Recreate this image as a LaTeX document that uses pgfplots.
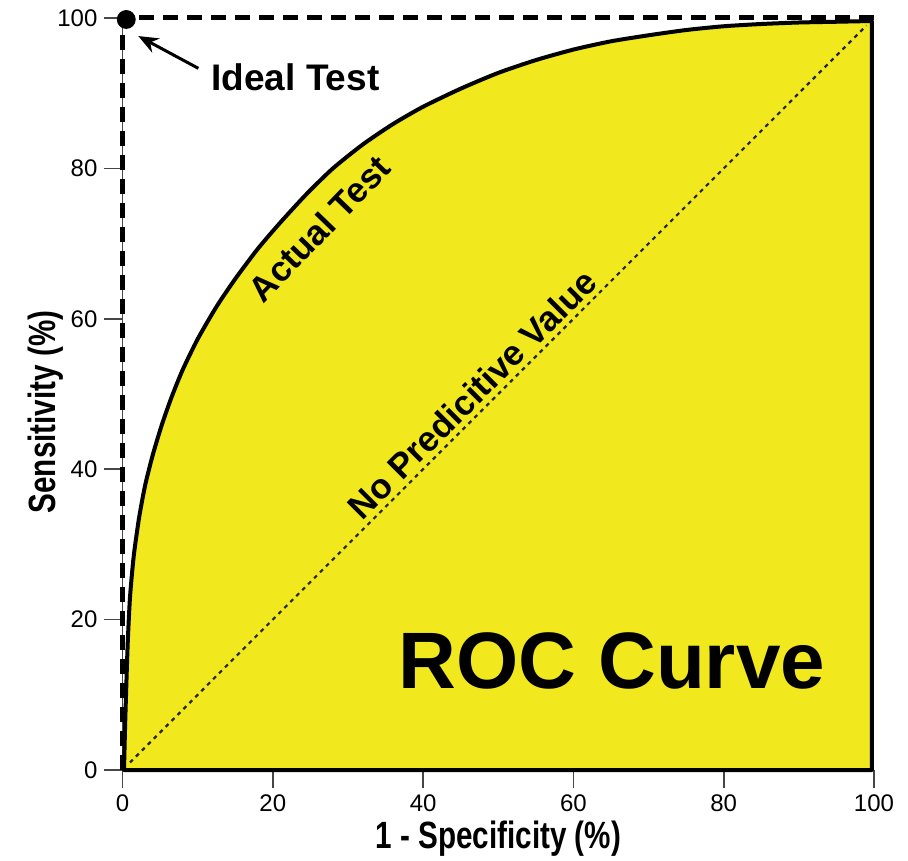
\documentclass[border=0pt]{standalone}
\usepackage{fontspec}
\setmainfont{Liberation Sans}
\usepackage{graphicx}
\usepackage{pgfplots}
\pgfplotsset{compat=1.18}
\usetikzlibrary{arrows.meta,calc}
\definecolor{rocyellow}{RGB}{241,232,30}
\definecolor{axgray}{RGB}{70,70,70}
\begin{document}
\begin{tikzpicture}
\begin{axis}[
  name=ax,
  scale only axis, width=375.75pt, height=376pt,
  xmin=0, xmax=100, ymin=0, ymax=100,
  axis lines*=left,
  axis line style={axgray, line width=0.8pt, -},
  xtick={0,20,...,100}, ytick={0,20,...,100},
  tick align=outside, major tick length=9pt,
  tick style={axgray, line width=0.8pt},
  ticklabel style={font=\fontsize{12}{14}\selectfont, text=black},
  /pgf/number format/assume math mode=true,
  clip=false,
]
% Actual test area
\addplot[draw=black, line width=2pt, fill=rocyellow, line join=round, smooth, tension=0.4] coordinates {
(0.2,0) (0.35,6) (0.5,11) (0.7,17) (1.0,23) (1.5,28.5) (2.2,33.5) (3.0,37.8)
(4.0,41.8) (5.2,45.8) (6.5,49.5) (8.0,53.2) (10.0,57.3) (12.5,61.6) (15.0,65.3)
(18.0,69.3) (21.0,72.8) (24.5,76.6) (28.0,80.0) (32.0,83.2) (36.0,85.9) (40.0,88.2)
(45.0,90.6) (50.0,92.7) (55.0,94.4) (60.0,95.8) (65.0,96.9) (70.0,97.7) (75.0,98.4)
(80.0,98.9) (85.0,99.2) (90.0,99.4) (95.0,99.5) (99.7,99.6)
} -- (axis cs:99.7,0) -- (axis cs:0.2,0) -- cycle;
% no predictive value diagonal
\addplot[black!85, line width=1.1pt, dash pattern=on 2pt off 2.2pt] coordinates {(1,1) (99,99)};
% ideal test
\addplot[black, line width=2.5pt, dash pattern=on 7.5pt off 4.5pt] coordinates {(0,0) (0,100) (100,100)};
\addplot[black, mark=*, mark size=4.5pt, only marks] coordinates {(0.5,99.8)};
\addplot[black, line width=1.5pt, -{Stealth[length=10pt,width=8pt]}] coordinates {(10.1,93.3) (2.1,97.6)};
% texts
\node[anchor=base west, font=\fontsize{18.5}{20}\selectfont\bfseries] at (axis cs:10.9,90.4) {Ideal Test};
\node[rotate=46, font=\fontsize{17.5}{19}\selectfont\bfseries] at (axis cs:26.2,72) {Actual Test};
\node[rotate=45, font=\fontsize{17.5}{19}\selectfont\bfseries] at (axis cs:46.5,50) {No Predicitive Value};
\node[anchor=base, font=\fontsize{40}{44}\selectfont\bfseries] at (axis cs:65.1,10.9) {ROC Curve};
\node[anchor=base, font=\fontsize{19}{21}\selectfont\bfseries] at (axis cs:50,-10.5) {\scalebox{0.78}[1]{1 - Specificity (\%)}};
\node[anchor=base, rotate=90, font=\fontsize{19}{21}\selectfont\bfseries] at (axis cs:-8.85,47.6) {\scalebox{0.78}[1]{Sensitivity (\%)}};
\end{axis}
\pgfresetboundingbox
\path ($(ax.south west)+(-61.25pt,-45pt)$) rectangle ($(ax.south west)+(392.75pt,385pt)$);
\end{tikzpicture}
\end{document}
